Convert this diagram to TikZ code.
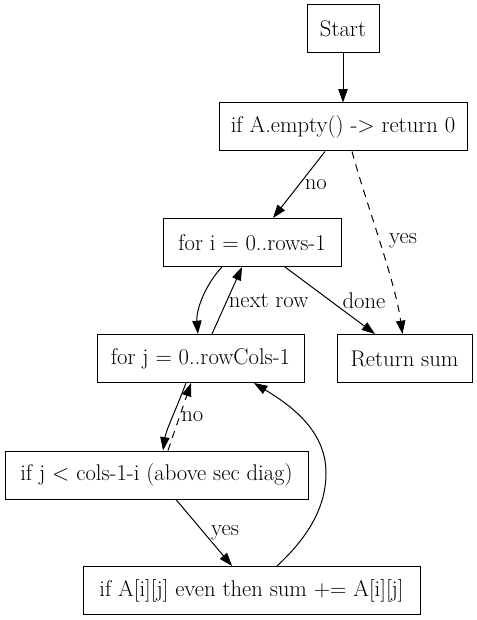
\documentclass[tikz,border=0pt]{standalone}
\usetikzlibrary{arrows.meta}
\begin{document}
\begin{tikzpicture}[x=0.75pt,y=-0.75pt,line width=0.75pt,>={Triangle[length=10pt,width=7pt]},
    box/.style={draw, rectangle, minimum height=36pt, inner sep=0pt, font=\fontsize{17}{19}\selectfont},
    wd/.style={minimum width=#1*0.75pt},
    lbl/.style={font=\fontsize{17}{19}\selectfont, inner sep=1pt},
    dsh/.style={dash pattern=on 5.5pt off 4.5pt}]
    \useasboundingbox (0,0) rectangle (477,620);
    \node[box, wd=72] (start) at (343,29) {Start};
    \node[box, wd=248] (empty) at (343,127) {if A.empty() -> return 0};
    \node[box, wd=178] (fori) at (252,242.5) {for i = 0..rows-1};
    \node[box, wd=207] (forj) at (200.5,358.5) {for j = 0..rowCols-1};
    \node[box, wd=135] (ret) at (404.5,358.5) {Return sum};
    \node[box, wd=303] (ifj) at (156.5,475) {if j < cols-1-i (above sec diag)};
    \node[box, wd=337] (ifeven) at (251.5,590.5) {if A[i][j] even then sum += A[i][j]};
    \draw[->] (start) -- (empty);
    \draw[->] ([xshift=-13.5pt]empty.south) -- ([xshift=15.75pt]fori.north) node[lbl,midway,right,xshift=3pt] {no};
    \draw[->,dsh] ([xshift=6.75pt]empty.south) .. controls (365,200) and (395,280) .. ([xshift=-1.5pt]ret.north) node[lbl,pos=0.5,right,xshift=6pt] {yes};
    \draw[->] ([xshift=-22.5pt]fori.south) .. controls (205,285) and (196,310) .. ([xshift=-1.9pt]forj.north);
    \draw[->] ([xshift=8.6pt]forj.north) -- ([xshift=-7.5pt]fori.south) node[lbl,midway,right] {next row};
    \draw[->] ([xshift=24.75pt]fori.south) -- ([xshift=-22.1pt]ret.north) node[lbl,midway,right,xshift=8pt] {done};
    \draw[->] ([xshift=-10.9pt]forj.south) .. controls (178,405) and (166,430) .. ([xshift=4.9pt]ifj.north);
    \draw[->,dsh] ([xshift=8.6pt]ifj.north) -- ([xshift=-7.1pt]forj.south) node[lbl,midway,right] {no};
    \draw[->] ([xshift=14.6pt]ifj.south) -- ([xshift=-14.6pt]ifeven.north) node[lbl,midway,right,xshift=4pt] {yes};
    \draw[->] ([xshift=19.1pt]ifeven.north) .. controls (305,540) and (326,510) .. (326,473) .. controls (326,430) and (290,405) .. ([xshift=40.1pt]forj.south);
\end{tikzpicture}
\end{document}
